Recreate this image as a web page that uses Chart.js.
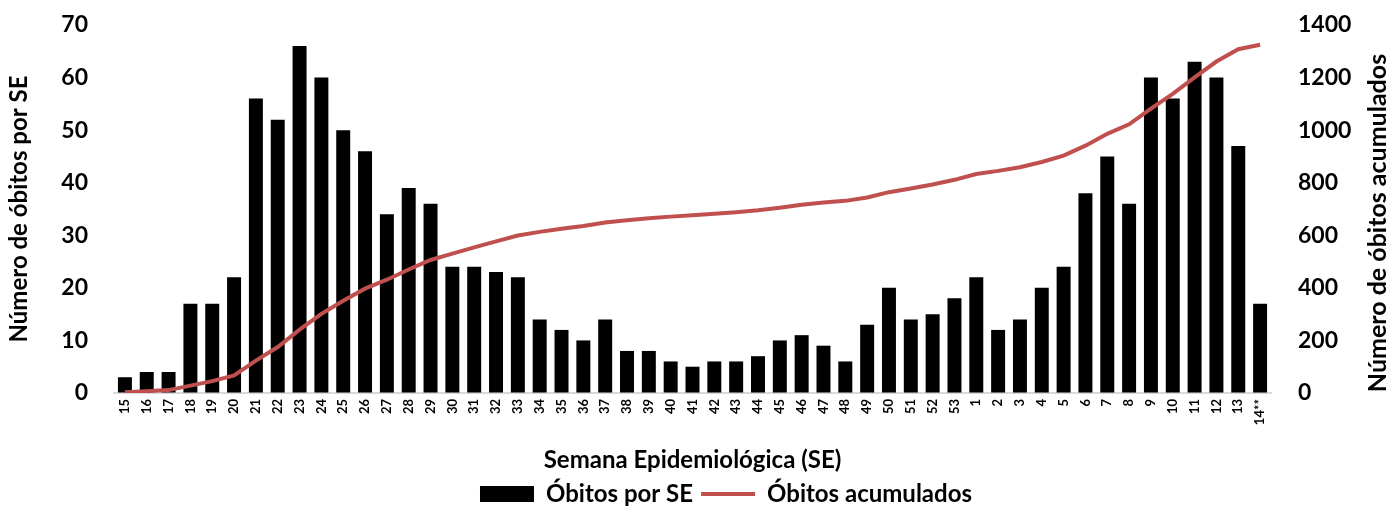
<!DOCTYPE html>
<html>
<head>
<meta charset="utf-8">
<script src="https://cdn.jsdelivr.net/npm/chart.js@4"></script>
<style>
  html, body { margin: 0; padding: 0; background: #fff; }
  #wrap { width: 1398px; height: 506px; }
</style>
</head>
<body>
<div id="wrap"><canvas id="grafico" width="1398" height="506"></canvas></div>
<script>
// Semanas epidemiológicas
const semanas = ['15', '16', '17', '18', '19', '20', '21', '22', '23', '24', '25', '26', '27', '28',
  '29', '30', '31', '32', '33', '34', '35', '36', '37', '38', '39', '40', '41', '42', '43', '44',
  '45', '46', '47', '48', '49', '50', '51', '52', '53', '1', '2', '3', '4', '5', '6', '7', '8',
  '9', '10', '11', '12', '13', '14**'];

// Óbitos por SE
const obitosSemana = [3, 4, 4, 17, 17, 22, 56, 52, 66, 60, 50, 46, 34, 39, 36, 24, 24, 23, 22, 14,
  12, 10, 14, 8, 8, 6, 5, 6, 6, 7, 10, 11, 9, 6, 13, 20, 14, 15, 18, 22, 12, 14, 20, 24, 38, 45,
  36, 60, 56, 63, 60, 47, 17];

// Óbitos acumulados
const obitosAcumulados = [3, 7, 11, 28, 45, 67, 123, 175, 241, 301, 351, 397, 431, 470, 506, 530,
  554, 577, 599, 613, 625, 635, 649, 657, 665, 671, 676, 682, 688, 695, 705, 716, 725, 731, 744,
  764, 778, 793, 811, 833, 845, 859, 879, 903, 941, 986, 1022, 1082, 1138, 1201, 1261, 1308, 1325];

const fonte = 'Lato, "Open Sans", sans-serif';
const tituloDireito = 'Número de óbitos acumulados';

// título do eixo direito (lido de baixo para cima) e legenda um pouco à direita
const ajustes = {
  id: 'ajustes',
  afterLayout(chart) {
    chart.legend.left += 27;
    chart.legend.right += 27;
  },
  afterDraw(chart) {
    const c = chart.ctx;
    c.save();
    c.translate(1378, 223);
    c.rotate(-Math.PI / 2);
    c.font = 'bold 25px ' + fonte;
    c.fillStyle = '#000';
    c.textAlign = 'center';
    c.textBaseline = 'middle';
    c.fillText(tituloDireito, 0, 0);
    c.restore();
  }
};

// sem linhas de grade, só o espaço das marcas
const semGrade = { display: true, color: 'transparent', drawOnChartArea: false, drawTicks: true };

const ctx = document.getElementById('grafico').getContext('2d');
new Chart(ctx, {
  type: 'bar',
  data: {
    labels: semanas,
    datasets: [
      {
        label: 'Óbitos por SE',
        data: obitosSemana,
        backgroundColor: '#000000',
        categoryPercentage: 1,
        barPercentage: 0.64,
        yAxisID: 'y',
        order: 1,
        pointStyle: 'rect',
      },
      {
        type: 'line',
        label: 'Óbitos acumulados',
        data: obitosAcumulados,
        borderColor: '#C0504D',
        backgroundColor: '#C0504D',
        borderWidth: 4,
        pointRadius: 0,
        tension: 0,
        yAxisID: 'y1',
        order: 0,
        pointStyle: 'line',
      },
    ],
  },
  options: {
    responsive: false,
    animation: false,
    layout: { padding: { left: 0, right: 0, top: 25, bottom: -10 } },
    plugins: {
      tooltip: { enabled: false },
      legend: {
        position: 'bottom',
        labels: {
          usePointStyle: true,
          pointStyleWidth: 54,
          boxHeight: 16,
          padding: 8,
          color: '#000',
          font: { family: fonte, size: 24, weight: 'bold' },
          sort: (a, b) => a.datasetIndex - b.datasetIndex,
        },
      },
    },
    scales: {
      x: {
        grid: { display: false, drawTicks: false },
        border: { display: true, color: '#d9d9d9', width: 2 },
        ticks: {
          minRotation: 90,
          maxRotation: 90,
          autoSkip: false,
          padding: 6,
          color: '#000',
          font: { family: fonte, size: 13, weight: 'bold' },
        },
        title: {
          display: true,
          text: 'Semana Epidemiológica (SE)',
          color: '#000',
          font: { family: fonte, size: 24, weight: 'bold' },
          padding: { top: 4, bottom: -1 },
        },
        afterFit: s => { s.height = 81; },
      },
      y: {
        position: 'left',
        min: 0,
        max: 70,
        grid: { ...semGrade, tickLength: 26 },
        border: { display: false },
        ticks: {
          stepSize: 10,
          padding: 0,
          color: '#000',
          font: { family: fonte, size: 23, weight: 'bold' },
        },
        title: {
          display: true,
          text: 'Número de óbitos por SE',
          color: '#000',
          font: { family: fonte, size: 24, weight: 'bold' },
          padding: { top: 5, bottom: 0 },
        },
        afterFit: s => { s.width = 114; },
      },
      y1: {
        position: 'right',
        min: 0,
        max: 1400,
        grid: { ...semGrade, tickLength: 27 },
        border: { display: false },
        ticks: {
          stepSize: 200,
          padding: 0,
          color: '#000',
          font: { family: fonte, size: 23, weight: 'bold' },
          callback: v => String(v),
        },
        afterFit: s => { s.width = 127; },
      },
    },
  },
  plugins: [ajustes],
});
</script>
</body>
</html>
